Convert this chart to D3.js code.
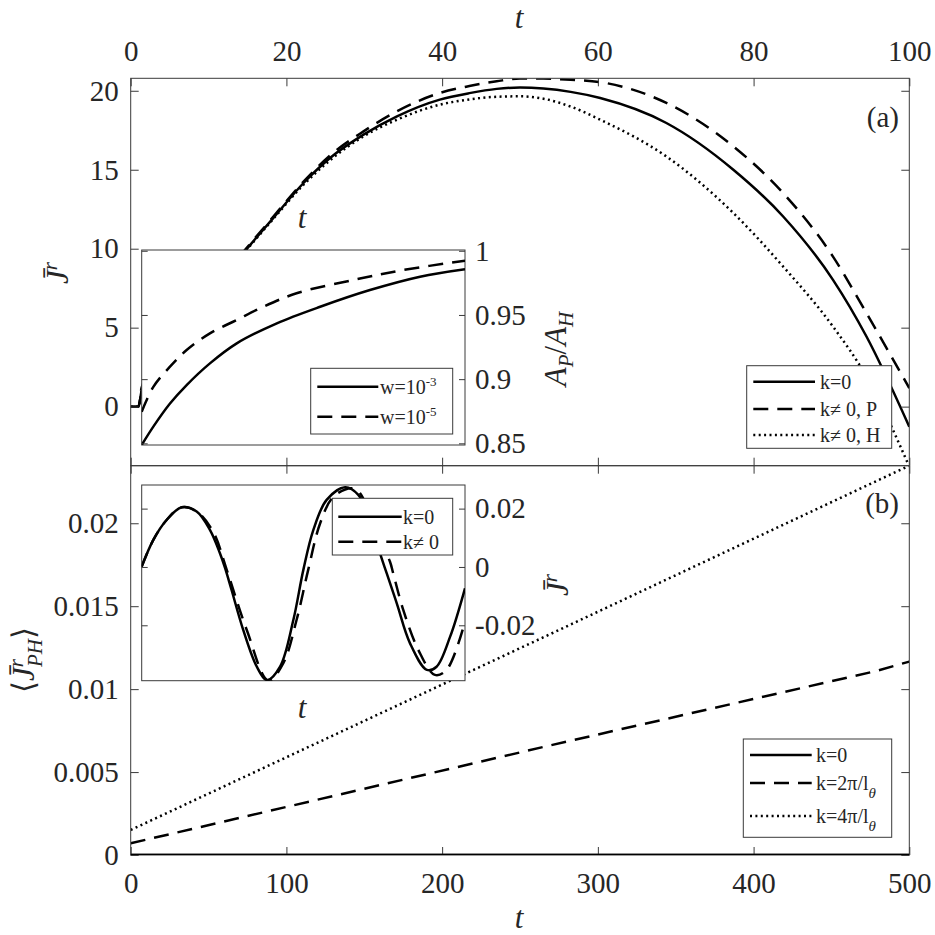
<!DOCTYPE html>
<html>
<head>
<meta charset="utf-8">
<script src="https://cdn.jsdelivr.net/npm/d3@7"></script>
<style>
body { margin: 0; background: #fff; }
text { font-family: "Liberation Serif", "DejaVu Serif", serif; fill: #262626; }
</style>
</head>
<body>
<div id="chart"></div>
<script>
// panel (a): J^r vs t, three cases
var tTop = [0, 1, 1.4, 5, 10, 14.8, 18.3, 22.2, 25.6, 29.9, 34.2, 39.7, 43.5, 47, 50, 53, 56.5, 60.3, 68.8, 77.4, 83.8, 90.2, 94.5, 100];
var jK0  = [0, 0, 1.0, 3.8, 7.2, 9.93, 11.94, 14.16, 15.74, 17.22, 18.38, 19.44, 19.85, 20.12, 20.2, 20.14, 19.93, 19.54, 17.96, 15.0, 12.04, 8.03, 4.44, -1.27];
var jKP  = [0, 0, 1.2, 3.9, 7.3, 10.0, 12.02, 14.25, 15.9, 17.43, 18.7, 19.86, 20.3, 20.6, 20.78, 20.77, 20.7, 20.55, 19.23, 16.48, 13.52, 9.5, 5.92, 1.17];
var jKH  = [0, 0, 1.0, 3.8, 7.15, 9.88, 11.88, 14.05, 15.6, 17.11, 18.17, 19.12, 19.45, 19.62, 19.65, 19.5, 19.0, 18.17, 15.84, 12.26, 8.87, 5.07, 1.9, -3.8];
var topTicks = [0, 20, 40, 60, 80, 100];
var jTicks = [0, 5, 10, 15, 20];

// inset of (a): A_P/A_H
var tW3 = [0, 3.6, 8.75, 13.9, 21.1, 29.4, 41.8, 55.2, 70.6, 86.1, 100];
var aW3 = [0.8487, 0.863, 0.881, 0.8954, 0.9123, 0.9279, 0.9435, 0.9564, 0.9694, 0.9798, 0.9856];
var tW5 = [0, 3.6, 8.75, 13.9, 21.1, 29.4, 36.6, 47.9, 65.4, 80.9, 100];
var aW5 = [0.8746, 0.894, 0.9097, 0.9227, 0.9357, 0.9461, 0.9552, 0.9669, 0.9772, 0.985, 0.9923];
var ratioTicks = [0.85, 0.9, 0.95, 1];
var ratioLabels = ["0.85", "0.9", "0.95", "1"];

// panel (b): <J^r_PH> vs t
var tBot = [0, 269, 479, 500];
var phK0 = [0, 0, 0, 0];
var phK2 = [0.000706, 0.0066, 0.0111, 0.01166];
var phK4 = [0.00151, 0.0133, 0.02255, 0.02347];
var botTicks = [0, 100, 200, 300, 400, 500];
var phTicks = [0, 0.005, 0.01, 0.015, 0.02];
var phLabels = ["0", "0.005", "0.01", "0.015", "0.02"];

// inset of (b): oscillating J^r
var tOs0 = [0, 3.6, 7.7, 12.4, 17, 21.1, 24.2, 25.8, 27.8, 31.4, 35.6, 38.7, 42.8, 46.9, 50, 53.1, 57.2, 62.9, 67, 70.6, 74.2, 75.8, 78.9, 83, 88.2, 91.2, 95.4, 100];
var jOs0 = [0.0001, 0.0093, 0.0161, 0.0205, 0.019, 0.0127, 0.0047, -0.0004, -0.0079, -0.0216, -0.0342, -0.0388, -0.0342, -0.0182, -0.001, 0.0127, 0.023, 0.0273, 0.0247, 0.0161, 0.003, -0.0022, -0.0125, -0.0262, -0.0353, -0.0342, -0.0239, -0.0073];
var tOsK = [0, 3.6, 7.7, 12.4, 17, 22.1, 26.3, 32.5, 39.2, 43.8, 47.9, 51.5, 55.2, 59.3, 65, 67.5, 72.5, 76.8, 77.8, 80.9, 85.6, 90.7, 94.3, 100];
var jOsK = [0.0001, 0.0093, 0.0161, 0.0205, 0.019, 0.0121, -0.001, -0.0216, -0.039, -0.033, -0.0182, -0.001, 0.015, 0.0241, 0.027, 0.0253, 0.012, 0.0018, -0.0022, -0.0147, -0.0285, -0.037, -0.0353, -0.0188];
var osTicks = [-0.02, 0, 0.02];
var osLabels = ["-0.02", "0", "0.02"];

var W = 935, H = 935;
var left = 130.7, right = 909.3, topA = 78.3, midY = 465.7, botB = 855;
var axisCol = "#3a3a3a";
var dashed = "15,9", dotted = "2,3.4";

var svg = d3.select("#chart").append("svg").attr("width", W).attr("height", H);

var xA = d3.scaleLinear().domain([0, 100]).range([left, right]);
var yA = d3.scaleLinear().domain([-3.74, 20.79]).range([midY, topA]);
var xB = d3.scaleLinear().domain([0, 500]).range([left, right]);
var yB = d3.scaleLinear().domain([0, 0.02347]).range([botB, midY]);

var xIa = d3.scaleLinear().domain([0, 100]).range([141.7, 465]);
var yIa = d3.scaleLinear().domain([0.8487, 1.0006]).range([445, 250]);
var xIb = d3.scaleLinear().domain([0, 100]).range([141.7, 465]);
var yIb = d3.scaleLinear().domain([-0.039, 0.0281]).range([680.7, 485]);

function clip(id, x0, y0, x1, y1) {
  svg.append("clipPath").attr("id", id).append("rect")
    .attr("x", x0).attr("y", y0).attr("width", x1 - x0).attr("height", y1 - y0);
}
clip("cA", left, topA, right, midY);
clip("cB", left, midY, right, botB);
clip("cIa", 141.7, 250, 465, 445);
clip("cIb", 141.7, 485, 465, 680.7);

function series(ts, vs, xs, ys, dash, clipId, curve) {
  var pts = ts.map(function(t, i) { return [t, vs[i]]; });
  var line = d3.line()
    .x(function(d) { return xs(d[0]); })
    .y(function(d) { return ys(d[1]); })
    .curve(curve || d3.curveCatmullRom);
  svg.append("path").datum(pts)
    .attr("clip-path", "url(#" + clipId + ")")
    .attr("fill", "none").attr("stroke", "#000").attr("stroke-width", 2.5)
    .attr("stroke-dasharray", dash)
    .attr("d", line);
}

function drawAxis(gen, tx, ty, vals, labels, size, pad) {
  var g = svg.append("g").attr("transform", "translate(" + tx + "," + ty + ")")
    .call(gen.tickValues(vals).tickSizeInner(-size).tickSizeOuter(0).tickPadding(pad)
      .tickFormat(function(d, i) { return labels ? labels[i] : ""; }));
  g.select(".domain").remove();
  g.selectAll("line").attr("stroke", axisCol);
  g.selectAll("text").attr("font-size", 29).attr("fill", "#262626");
  return g;
}

// main curves
series(tTop, jK0, xA, yA, null, "cA", d3.curveMonotoneX);
series(tTop, jKP, xA, yA, dashed, "cA", d3.curveMonotoneX);
series(tTop, jKH, xA, yA, dotted, "cA", d3.curveMonotoneX);
series(tBot, phK0, xB, yB, null, "cB", d3.curveLinear);
series(tBot, phK2, xB, yB, dashed, "cB", d3.curveLinear);
series(tBot, phK4, xB, yB, dotted, "cB", d3.curveLinear);

// main axes, panel (a)
drawAxis(d3.axisTop(xA), 0, topA, topTicks, topTicks.map(String), 8, 17);
drawAxis(d3.axisBottom(xA), 0, midY, topTicks, null, 8, 0);
drawAxis(d3.axisLeft(yA), left, 0, jTicks, jTicks.map(String), 8, 12);
drawAxis(d3.axisRight(yA), right, 0, jTicks, null, 8, 0);
// main axes, panel (b)
drawAxis(d3.axisBottom(xB), 0, botB, botTicks, botTicks.map(String), 8, 17);
drawAxis(d3.axisTop(xB), 0, midY, botTicks, null, 8, 0);
drawAxis(d3.axisLeft(yB), left, 0, phTicks, phLabels, 8, 12);
drawAxis(d3.axisRight(yB), right, 0, phTicks, null, 8, 0);

svg.append("rect").attr("x", left).attr("y", topA).attr("width", right - left).attr("height", midY - topA)
  .attr("fill", "none").attr("stroke", axisCol);
svg.append("rect").attr("x", left).attr("y", midY).attr("width", right - left).attr("height", botB - midY)
  .attr("fill", "none").attr("stroke", axisCol);
// the k=0 line of (b) sits on the axis, redraw it on top
series(tBot, phK0, xB, yB, null, "cB", d3.curveLinear);

// insets
function insetBox(x0, y0, x1, y1) {
  svg.append("rect").attr("x", x0).attr("y", y0).attr("width", x1 - x0).attr("height", y1 - y0)
    .attr("fill", "#fff").attr("stroke", axisCol);
}
insetBox(141.7, 250, 465, 445);
series(tW3, aW3, xIa, yIa, null, "cIa");
series(tW5, aW5, xIa, yIa, dashed, "cIa");
drawAxis(d3.axisRight(yIa), 465, 0, ratioTicks, ratioLabels, 6, 10);
drawAxis(d3.axisLeft(yIa), 141.7, 0, ratioTicks, null, 6, 0);

insetBox(141.7, 485, 465, 680.7);
series(tOs0, jOs0, xIb, yIb, null, "cIb");
series(tOsK, jOsK, xIb, yIb, dashed, "cIb");
drawAxis(d3.axisRight(yIb), 465, 0, osTicks, osLabels, 6, 10);
drawAxis(d3.axisLeft(yIb), 141.7, 0, osTicks, null, 6, 0);

// labels
function italic(x, y, s, size) {
  return svg.append("text").attr("x", x).attr("y", y).attr("text-anchor", "middle")
    .attr("font-style", "italic").attr("font-size", size || 31).text(s);
}
italic(519, 28, "t");
italic(519, 928, "t");
italic(302, 228, "t");
italic(302, 718, "t");

function rotLabel(cx, cy) {
  return svg.append("text").attr("transform", "translate(" + cx + "," + cy + ") rotate(-90)")
    .attr("text-anchor", "middle").attr("font-size", 31).attr("font-style", "italic");
}
var l1 = rotLabel(68, 273);
l1.append("tspan").text("J\u0304");
l1.append("tspan").attr("dy", -11).attr("font-size", 21).text("r");

var l2 = rotLabel(568, 585);
l2.append("tspan").text("J\u0304");
l2.append("tspan").attr("dy", -11).attr("font-size", 21).text("r");

var l3 = rotLabel(566, 349);
l3.append("tspan").text("A");
l3.append("tspan").attr("dy", 7).attr("font-size", 21).text("P");
l3.append("tspan").attr("dy", -7).attr("font-style", "normal").text("/");
l3.append("tspan").text("A");
l3.append("tspan").attr("dy", 7).attr("font-size", 21).text("H");

var l4 = rotLabel(34, 660);
l4.append("tspan").attr("font-style", "normal").text("\u27E8");
l4.append("tspan").text("J\u0304");
l4.append("tspan").attr("dy", -11).attr("font-size", 21).text("r");
l4.append("tspan").attr("dx", -8).attr("dy", 19).attr("font-size", 21).text("PH");
l4.append("tspan").attr("dy", -8).attr("font-style", "normal").text("\u27E9");

svg.append("text").attr("x", 899).attr("y", 127).attr("text-anchor", "end").attr("font-size", 29).text("(a)");
svg.append("text").attr("x", 899).attr("y", 513).attr("text-anchor", "end").attr("font-size", 29).text("(b)");

// legends
function legend(x0, y0, x1, y1, rows, lx0, lx1, tx) {
  svg.append("rect").attr("x", x0).attr("y", y0).attr("width", x1 - x0).attr("height", y1 - y0)
    .attr("fill", "#fff").attr("stroke", axisCol);
  rows.forEach(function(r) {
    svg.append("line").attr("x1", lx0).attr("x2", lx1).attr("y1", r.y).attr("y2", r.y)
      .attr("stroke", "#000").attr("stroke-width", 2.5).attr("stroke-dasharray", r.dash);
    var t = svg.append("text").attr("x", tx).attr("y", r.y + 7).attr("font-size", 20);
    r.parts.forEach(function(p) {
      var s = t.append("tspan").text(p.s);
      if (p.dy) s.attr("dy", p.dy);
      if (p.fs) s.attr("font-size", p.fs);
      if (p.it) s.attr("font-style", "italic");
    });
  });
}
legend(746.7, 365.7, 891.7, 448.3, [
  { y: 381.7, dash: null, parts: [{ s: "k=0" }] },
  { y: 409, dash: dashed, parts: [{ s: "k\u2260 0, P" }] },
  { y: 435, dash: dotted, parts: [{ s: "k\u2260 0, H" }] }
], 753.3, 815, 820);

legend(743.3, 739, 891.7, 837.3, [
  { y: 755, dash: null, parts: [{ s: "k=0" }] },
  { y: 783, dash: dashed, parts: [{ s: "k=2\u03C0/l" }, { s: "\u03B8", dy: 8, fs: 15, it: true }] },
  { y: 816, dash: dotted, parts: [{ s: "k=4\u03C0/l" }, { s: "\u03B8", dy: 8, fs: 15, it: true }] }
], 750, 811.7, 816);

legend(310.7, 368.3, 452.7, 434, [
  { y: 386.7, dash: null, parts: [{ s: "w=10" }, { s: "-3", dy: -8, fs: 13 }] },
  { y: 416.7, dash: dashed, parts: [{ s: "w=10" }, { s: "-5", dy: -8, fs: 13 }] }
], 317.3, 378.3, 380);

legend(332.3, 498.3, 452.7, 555, [
  { y: 516.7, dash: null, parts: [{ s: "k=0" }] },
  { y: 541.7, dash: dashed, parts: [{ s: "k\u2260 0" }] }
], 338.3, 401.7, 403);
</script>
</body>
</html>
